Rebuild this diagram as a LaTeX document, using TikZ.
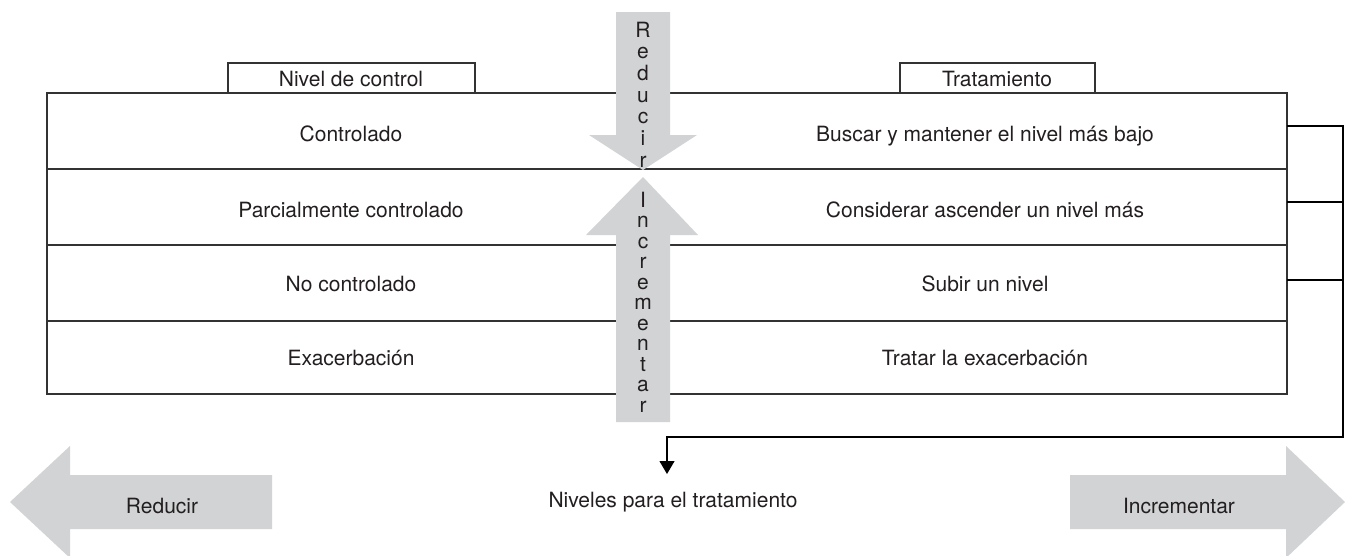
\documentclass[tikz,border=0pt]{standalone}
\usepackage{fontspec}
\setmainfont{TeX Gyre Heros}
\usetikzlibrary{arrows.meta}
\definecolor{arrowgray}{HTML}{D1D3D4}
\definecolor{linegray}{HTML}{333333}
\definecolor{textdark}{HTML}{231F20}
\begin{document}
\begin{tikzpicture}[x=1pt,y=-1pt,
  tline/.style={draw=linegray,line width=1.4pt},
  conn/.style={draw=black,line width=1.2pt},
  bigarrow/.style={fill=arrowgray,draw=none},
  lbl/.style={inner sep=0pt,anchor=base,text=textdark,font=\fontsize{21}{24}\selectfont},
  letter/.style={inner sep=0pt,anchor=base,text=textdark,font=\fontsize{21}{24}\selectfont}]
\useasboundingbox (0,0) rectangle (1346,555);
\fill[white] (0,0) rectangle (1346,555);

% table
\draw[tline] (47,93) rectangle (1287,394);
\draw[tline] (47,169) -- (1287,169);
\draw[tline] (47,245) -- (1287,245);
\draw[tline] (47,321) -- (1287,321);
% header boxes
\draw[tline] (228,93) -- (228,63) -- (475,63) -- (475,93);
\draw[tline] (900,93) -- (900,63) -- (1095,63) -- (1095,93);
\node[lbl] (hctrl) at (351,86) {Nivel de control};
\node[lbl] (htrat) at (997,86) {Tratamiento};

% row texts
\node[lbl] (l1) at (351,141) {Controlado};
\node[lbl] (l2) at (351,217) {Parcialmente controlado};
\node[lbl] (l3) at (351,291) {No controlado};
\node[lbl] (l4) at (351,365) {Exacerbación};
\node[lbl] (t1) at (985,141) {Buscar y mantener el nivel más bajo};
\node[lbl] (t2) at (985,217) {Considerar ascender un nivel más};
\node[lbl] (t3) at (985,291) {Subir un nivel};
\node[lbl] (t4) at (985,365) {Tratar la exacerbación};

% central arrows
\path[bigarrow] (616,12) -- (670,12) -- (670,135) -- (697,135) -- (643,170)
  -- (589,135) -- (616,135) -- cycle;
\path[bigarrow] (616,422) -- (670,422) -- (670,235) -- (698,235) -- (643,177)
  -- (586,235) -- (616,235) -- cycle;
\foreach \l [count=\i] in {R,e,d,u,c,i,r}
  \node[letter] (red\i) at (643,{37+21.67*(\i-1)}) {\l};
\foreach \l [count=\i] in {I,n,c,r,e,m,e,n,t,a,r}
  \node[letter] (inc\i) at (643,{207+20.5*(\i-1)}) {\l};

% bracket connector
\coordinate (r1) at (1287,126);
\coordinate (r2) at (1287,202);
\coordinate (r3) at (1287,280);
\coordinate (bend) at (1343,437);
\coordinate (tipN) at (667,474);
\draw[conn] (r2) -- (r2 -| bend);
\draw[conn] (r3) -- (r3 -| bend);
\draw[conn,-{Triangle[length=13pt,width=15pt]}] (r1) -- (r1 -| bend) -- (bend) -| (tipN);

% bottom
\node[lbl] (niv) at (673,507) {Niveles para el tratamiento};
\path[bigarrow] (10,502) -- (70,446) -- (70,475) -- (272,475) -- (272,529)
  -- (70,529) -- (70,558) -- cycle;
\path[bigarrow] (1345,502) -- (1286,446) -- (1286,475) -- (1070,475) -- (1070,529)
  -- (1286,529) -- (1286,558) -- cycle;
\node[lbl] (red) at (162,513) {Reducir};
\node[lbl] (inc) at (1179,513) {Incrementar};
\end{tikzpicture}
\end{document}
